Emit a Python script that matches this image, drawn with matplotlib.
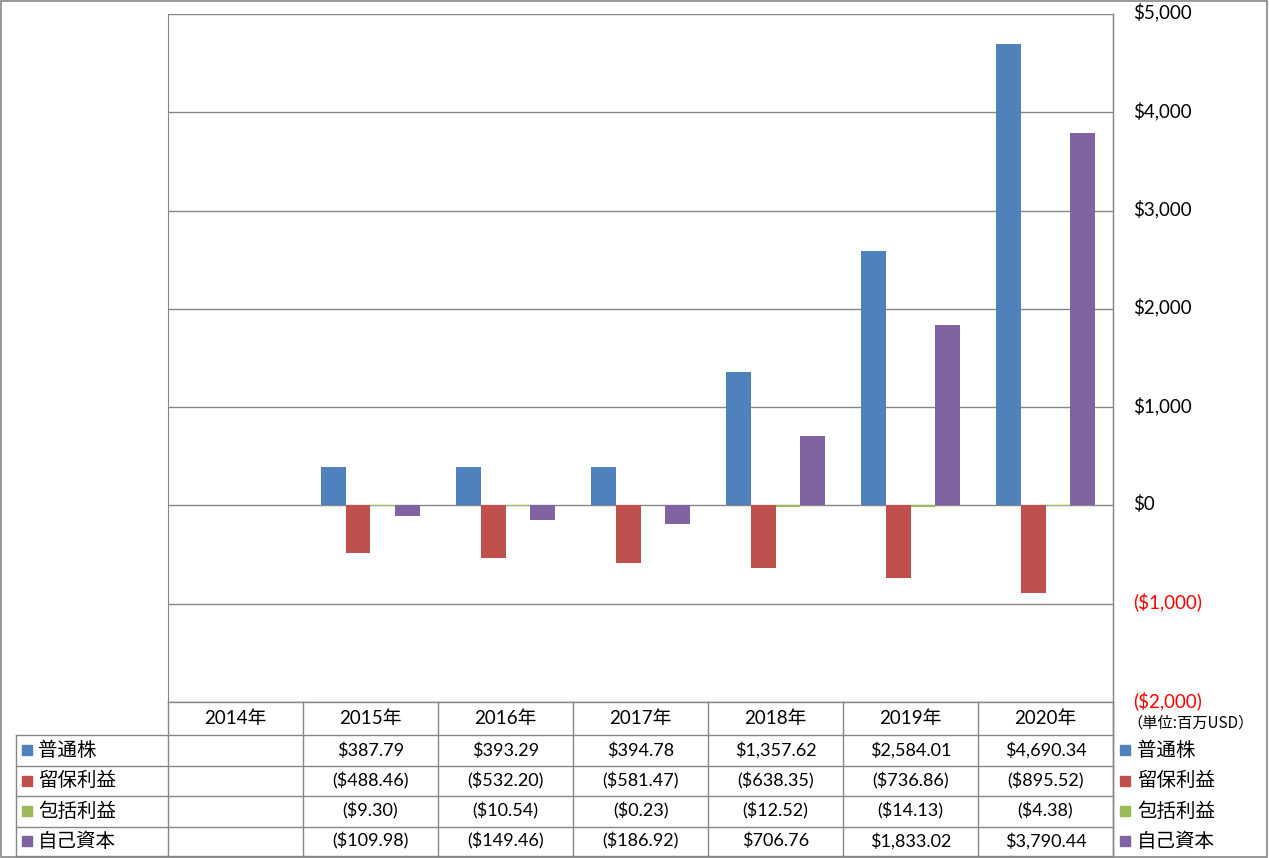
import numpy as np
import matplotlib
matplotlib.use("Agg")
import matplotlib.pyplot as plt
import matplotlib.transforms as mtransforms
from matplotlib.patches import Rectangle
from matplotlib.lines import Line2D

years = ["2014年", "2015年", "2016年", "2017年", "2018年", "2019年", "2020年"]
series_names = ["普通株", "留保利益", "包括利益", "自己資本"]
common_stock = [np.nan, 387.79, 393.29, 394.78, 1357.62, 2584.01, 4690.34]
retained = [np.nan, -488.46, -532.20, -581.47, -638.35, -736.86, -895.52]
comprehensive = [np.nan, -9.30, -10.54, -0.23, -12.52, -14.13, -4.38]
equity = [np.nan, -109.98, -149.46, -186.92, 706.76, 1833.02, 3790.44]
y_ticks = [-2000, -1000, 0, 1000, 2000, 3000, 4000, 5000]
unit_label = "（単位:百万USD）"
colors = ["#4F81BD", "#C0504D", "#9BBB59", "#8064A2"]

W, H = 1269, 858
fig = plt.figure(figsize=(W / 100, H / 100), dpi=100)
FAM = ["Lato", "Noto Sans CJK JP"]
CJK = ["Noto Sans CJK JP"]
GRID = "#868686"

def fx(px):
    return px / W

def fy(py):
    return 1 - py / H

left, right, top, bottom = 168, 1113, 14, 702
ax = fig.add_axes([fx(left), fy(bottom), fx(right) - fx(left), (bottom - top) / H])
data = [common_stock, retained, comprehensive, equity]
x = np.arange(len(years))
bw = 0.183
for i, (vals, c) in enumerate(zip(data, colors)):
    ax.bar(x + (i - 1.5) * bw, vals, width=bw, color=c, zorder=3)
ax.set_xlim(-0.5, len(years) - 0.5)
ax.set_ylim(min(y_ticks), max(y_ticks))
ax.set_yticks(y_ticks)
for v in y_ticks:
    ax.axhline(v, color=GRID, lw=1, zorder=1)
ax.set_xticks([])
ax.yaxis.tick_right()
ax.tick_params(axis="y", length=0, pad=14.4)

def money(v, dec=0):
    s = f"${abs(v):,.{dec}f}"
    return f"({s})" if v < 0 else s

ax.set_yticklabels([money(v) for v in y_ticks], fontsize=13.5, family=FAM)
shift = mtransforms.ScaledTranslation(0, 3 / 100, fig.dpi_scale_trans)
for lab, v in zip(ax.get_yticklabels(), y_ticks):
    lab.set_color("red" if v < 0 else "black")
    lab.set_horizontalalignment("left")
    lab.set_transform(lab.get_transform() + shift)
for sp in ["top", "bottom"]:
    ax.spines[sp].set_visible(False)
ax.spines["left"].set_color(GRID)
ax.spines["right"].set_color(GRID)

# table
col_edges = [168 + 135 * i for i in range(len(years) + 1)]
row_edges = [702, 735, 765.5, 796, 826.5, 856]

def hline(y, x0, x1):
    fig.add_artist(Line2D([fx(x0), fx(x1)], [fy(y), fy(y)], color=GRID, lw=1))

def vline(xp, y0, y1):
    fig.add_artist(Line2D([fx(xp), fx(xp)], [fy(y0), fy(y1)], color=GRID, lw=1))

hline(row_edges[0], 168, 1113)
for y in row_edges[1:]:
    hline(y, 16, 1113)
for xp in col_edges:
    vline(xp, 702, 856)
vline(16, 735, 856)
vline(1113, 14, 856)

for j, yl in enumerate(years):
    fig.text(fx((col_edges[j] + col_edges[j + 1]) / 2), fy((row_edges[0] + row_edges[1]) / 2), yl,
             ha="center", va="center", fontsize=13.5, family=FAM)

for i, (name, vals, c) in enumerate(zip(series_names, data, colors)):
    yc = (row_edges[i + 1] + row_edges[i + 2]) / 2
    fig.add_artist(Rectangle((fx(22), fy(yc + 5)), 10 / W, 10 / H, color=c, transform=fig.transFigure))
    fig.text(fx(38), fy(yc), name, ha="left", va="center", fontsize=14, family=CJK)
    fig.add_artist(Rectangle((fx(1120), fy(yc + 5)), 10 / W, 10 / H, color=c, transform=fig.transFigure))
    fig.text(fx(1137), fy(yc), name, ha="left", va="center", fontsize=14, family=CJK)
    for j, v in enumerate(vals):
        if np.isnan(v):
            continue
        fig.text(fx((col_edges[j] + col_edges[j + 1]) / 2), fy(yc), money(v, 2),
                 ha="center", va="center", fontsize=13, family=FAM)

fig.text(fx(1127), fy(723), unit_label, ha="left", va="center", fontsize=11, family=CJK)

fig.add_artist(Rectangle((0.0005, 0.0008), 0.998, 0.998, fill=False, ec=GRID, lw=1.2,
                         transform=fig.transFigure))
fig.savefig("out.png", dpi=100)
